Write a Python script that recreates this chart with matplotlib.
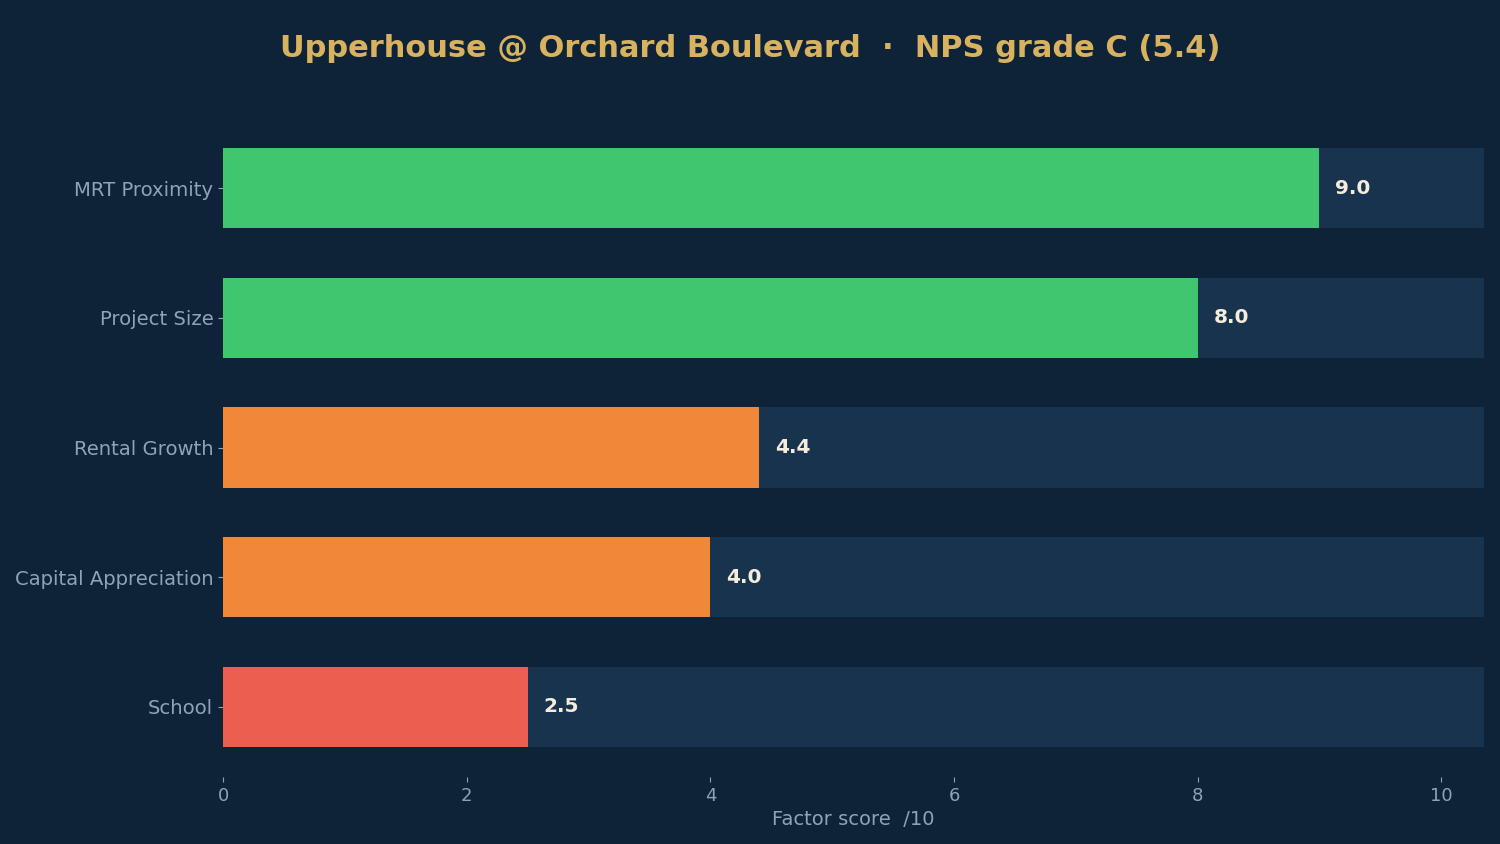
import matplotlib
matplotlib.use("Agg")
import matplotlib.pyplot as plt

factors = ["MRT Proximity", "Project Size", "Rental Growth", "Capital Appreciation", "School"]
scores = [9.0, 8.0, 4.4, 4.0, 2.5]
bar_colors = ["#3fc66f", "#3fc66f", "#f0883a", "#f0883a", "#ec5e4e"]
title = "Upperhouse @ Orchard Boulevard  \u00b7  NPS grade C (5.4)"

BG = "#0e2338"
TRACK = "#17334d"
MUTED = "#8ea3b7"
X_MAX = 10.35


def main():
    fig = plt.figure(figsize=(15, 8.44), dpi=100, facecolor=BG)
    ax = fig.add_axes([0.1487, 0.0794, 0.9893 - 0.1487, 0.860 - 0.0794])
    ax.set_facecolor(BG)

    ypos = list(range(len(factors)))[::-1]
    ax.barh(ypos, [X_MAX] * len(factors), height=0.62, color=TRACK, zorder=1)
    ax.barh(ypos, scores, height=0.62, color=bar_colors, zorder=2)

    for y, s in zip(ypos, scores):
        ax.text(s + 0.13, y, f"{s:.1f}", va="center", ha="left",
                color="#f6ecdc", fontsize=14.5, fontweight="bold", zorder=3)

    ax.set_xlim(0, X_MAX)
    ax.set_ylim(-0.541, 4.541)
    ax.set_yticks(ypos)
    ax.set_yticklabels(factors)
    ax.set_xticks([0, 2, 4, 6, 8, 10])
    ax.tick_params(colors=MUTED, labelsize=13)
    ax.tick_params(axis="y", labelsize=14.1)
    for sp in ax.spines.values():
        sp.set_visible(False)

    ax.set_xlabel("Factor score  /10", color=MUTED, fontsize=14, labelpad=4)
    fig.suptitle(title, color="#d9b25f", fontsize=22, fontweight="bold", y=0.96)

    fig.savefig("out.png", dpi=100, facecolor=BG)


if __name__ == "__main__":
    main()
